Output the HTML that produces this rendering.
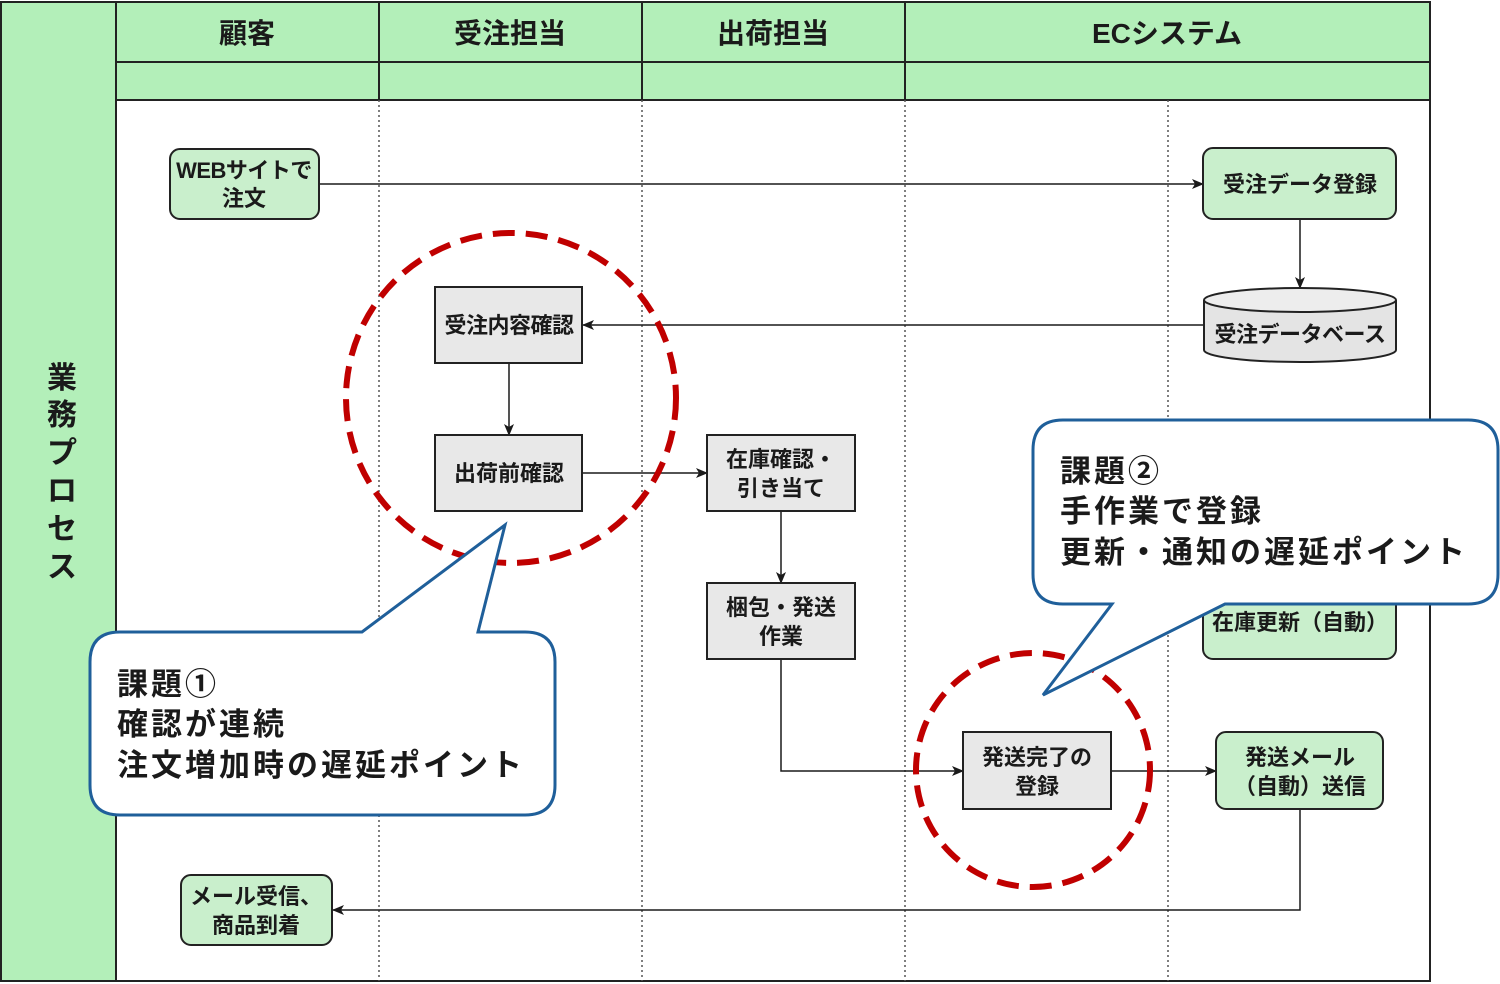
<!DOCTYPE html>
<html><head><meta charset="utf-8"><style>
html,body{margin:0;padding:0;background:#fff;}
svg{display:block;}
text{font-family:"Liberation Sans","Noto Sans CJK JP",sans-serif;font-weight:bold;fill:#1a1a1a;}
</style></head><body>
<svg width="1500" height="984" viewBox="0 0 1500 984" xmlns="http://www.w3.org/2000/svg">
<defs>
<marker id="ar" markerWidth="12" markerHeight="10" refX="11" refY="5" orient="auto" markerUnits="userSpaceOnUse">
<path d="M0,0 L12,5 L0,10 L3,5 z" fill="#1a1a1a"/></marker>
</defs>
<rect x="0" y="0" width="1500" height="984" fill="#fff"/>
<rect x="1" y="2" width="115" height="979" fill="#b3efb9" stroke="#222" stroke-width="2"/>
<rect x="116" y="2" width="1314" height="98" fill="#b3efb9" stroke="#222" stroke-width="2"/>
<line x1="116" y1="62" x2="1430" y2="62" stroke="#222" stroke-width="2"/>
<g stroke="#222" stroke-width="2">
<line x1="379" y1="2" x2="379" y2="100"/><line x1="642" y1="2" x2="642" y2="100"/><line x1="905" y1="2" x2="905" y2="100"/>
</g>
<rect x="116" y="100" width="1314" height="881" fill="#fff" stroke="#222" stroke-width="2"/>
<g stroke="#555" stroke-width="1.5" stroke-dasharray="2,3">
<line x1="379" y1="100" x2="379" y2="981"/><line x1="642" y1="100" x2="642" y2="981"/><line x1="905" y1="100" x2="905" y2="981"/><line x1="1168" y1="100" x2="1168" y2="981"/>
</g>
<g font-size="28" text-anchor="middle">
<text x="247" y="43">顧客</text><text x="510" y="43">受注担当</text><text x="773" y="43">出荷担当</text><text x="1167" y="43">ECシステム</text>
</g>
<g font-size="30" text-anchor="middle" fill="#333">
<text x="62" y="388">業</text><text x="62" y="425">務</text><text x="62" y="463">プ</text><text x="62" y="501">ロ</text><text x="62" y="539">セ</text><text x="62" y="577">ス</text>
</g>
<g stroke="#1a1a1a" stroke-width="1.5" fill="none" marker-end="url(#ar)">
<line x1="319" y1="184" x2="1203" y2="184"/>
<line x1="1300" y1="219" x2="1300" y2="288"/>
<line x1="1203" y1="325" x2="583" y2="325"/>
<line x1="509" y1="363" x2="509" y2="435"/>
<line x1="582" y1="473" x2="707" y2="473"/>
<line x1="781" y1="511" x2="781" y2="583"/>
<polyline points="781,659 781,771 963,771"/>
<line x1="1111" y1="771" x2="1216" y2="771"/>
<polyline points="1300,809 1300,910 333,910"/>
</g>
<g stroke="#222" stroke-width="2">
<rect x="170" y="149" width="149" height="70" rx="10" fill="#c9efcc"/>
<rect x="1203" y="148" width="193" height="71" rx="10" fill="#c9efcc"/>
<rect x="1203" y="590" width="193" height="69" rx="10" fill="#c9efcc"/>
<rect x="1216" y="732" width="167" height="77" rx="10" fill="#c9efcc"/>
<rect x="181" y="875" width="151" height="70" rx="10" fill="#c9efcc"/>
<rect x="435" y="287" width="147" height="76" fill="#e8e8e8"/>
<rect x="435" y="435" width="147" height="76" fill="#e8e8e8"/>
<rect x="707" y="435" width="148" height="76" fill="#e8e8e8"/>
<rect x="707" y="583" width="148" height="76" fill="#e8e8e8"/>
<rect x="963" y="732" width="148" height="77" fill="#e8e8e8"/>
<path d="M1204,300 L1204,350 A96,12 0 0 0 1396,350 L1396,300" fill="#e4e4e4"/>
<ellipse cx="1300" cy="300" rx="96" ry="12" fill="#ededed"/>
</g>
<g font-size="22" text-anchor="middle">
<text x="244" y="178" letter-spacing="-0.5">WEBサイトで</text><text x="244" y="206">注文</text>
<text x="1300" y="192">受注データ登録</text>
<text x="1300" y="342" letter-spacing="-0.5">受注データベース</text>
<text x="509" y="333" letter-spacing="-0.5">受注内容確認</text>
<text x="509" y="481">出荷前確認</text>
<text x="781" y="467">在庫確認・</text><text x="781" y="496">引き当て</text>
<text x="781" y="615">梱包・発送</text><text x="781" y="644">作業</text>
<text x="1037" y="765">発送完了の</text><text x="1037" y="794">登録</text>
<text x="1300" y="630">在庫更新（自動）</text>
<text x="1300" y="765">発送メール</text><text x="1300" y="794">（自動）送信</text>
<text x="256" y="904">メール受信、</text><text x="256" y="933">商品到着</text>
</g>
<g fill="none" stroke="#c00000" stroke-width="6" stroke-dasharray="22,11">
<circle cx="511" cy="398" r="165"/>
<circle cx="1033" cy="770" r="117"/>
</g>
<path d="M120,632 L362,632 L505,525 L478,632 L525,632 Q555,632 555,662 L555,785 Q555,815 525,815 L120,815 Q90,815 90,785 L90,662 Q90,632 120,632 Z" fill="#fff" stroke="#1f5f9a" stroke-width="3"/>
<g font-size="31" letter-spacing="3">
<text x="117" y="695">課題①</text><text x="117" y="735">確認が連続</text><text x="117" y="776">注文増加時の遅延ポイント</text>
</g>
<path d="M1063,420 L1468,420 Q1498,420 1498,450 L1498,574 Q1498,604 1468,604 L1225,604 L1043,695 L1112,604 L1063,604 Q1033,604 1033,574 L1033,450 Q1033,420 1063,420 Z" fill="#fff" stroke="#1f5f9a" stroke-width="3"/>
<g font-size="31" letter-spacing="3">
<text x="1060" y="482">課題②</text><text x="1060" y="522">手作業で登録</text><text x="1060" y="563">更新・通知の遅延ポイント</text>
</g>
</svg>
</body></html>
